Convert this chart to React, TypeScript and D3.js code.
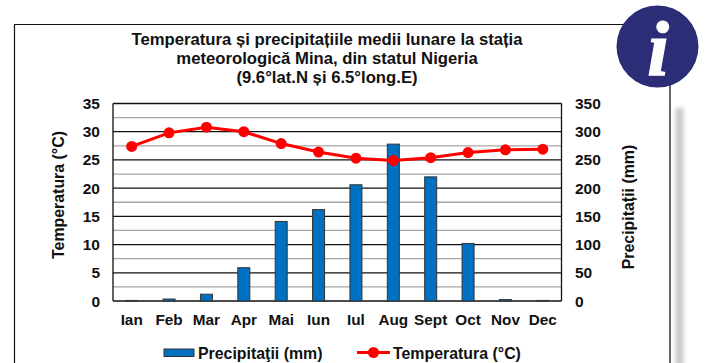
import React from "react";
import * as d3 from "d3";

const months = ["Ian","Feb","Mar","Apr","Mai","Iun","Iul","Aug","Sept","Oct","Nov","Dec"];
const temperature = [27.4,29.8,30.8,30.0,27.9,26.4,25.3,24.9,25.4,26.3,26.8,26.9];
const precipitation = [1,3.5,12,59,141,162,206,278,220,102,2.5,1];
const tempTicks = [0,5,10,15,20,25,30,35];
const minorTicks = [2.5,7.5,12.5,17.5,22.5,27.5,32.5];
const precipTicks = [0,50,100,150,200,250,300,350];
const titleLines = [
  "Temperatura și precipitațiile medii lunare la stația",
  "meteorologică Mina, din statul Nigeria",
  "(9.6°lat.N și 6.5°long.E)",
];

const FONT = "'Liberation Sans', Arial, sans-serif";

export default function App() {
  const W = 705, H = 363;
  const L = 113, R = 561.5, T = 103.5, B = 301;
  const x = d3.scaleBand<string>().domain(months).range([L, R]);
  const yT = d3.scaleLinear().domain([0, 35]).range([B, T]);
  const yP = d3.scaleLinear().domain([0, 350]).range([B, T]);
  const cx = (m: string) => (x(m) as number) + x.bandwidth() / 2;
  const line = d3.line<number>().x((_, i) => cx(months[i])).y(d => yT(d));
  const barW = 12;
  return (
    <svg width={W} height={H} viewBox={`0 0 ${W} ${H}`}
      style={{ position: "fixed", left: 0, top: 0, background: "#fff" }} fontFamily={FONT} fontWeight="bold" fill="#111">
      <defs>
        <filter id="blur" x="-50%" y="-10%" width="200%" height="120%">
          <feGaussianBlur stdDeviation="2" />
        </filter>
      </defs>
      <rect x={675.5} y={108} width={8} height={H} fill="#c8c8c8" filter="url(#blur)" />
      <path d={`M14.5 ${H} V24.5 H640`} fill="none" stroke="#111" strokeWidth={1.2} />
      <line x1={670} x2={670} y1={85} y2={H} stroke="#666" strokeWidth={2} />

      <circle cx={657.5} cy={46.5} r={41} fill="#2b2d77" />
      <text x={658} y={75} fontFamily="'Liberation Serif', serif" fontStyle="italic" fontWeight="bold" fontSize={78} fill="#fff" stroke="#fff" strokeWidth={1.2} textAnchor="middle">i</text>

      {titleLines.map((t, i) => (
        <text key={i} x={327} y={45 + i * 19} textAnchor="middle" fontSize={16.7}>{t}</text>
      ))}

      {minorTicks.map(t => (
        <line key={t} x1={L} x2={R} y1={yT(t)} y2={yT(t)} stroke="#a6a6a6" strokeWidth={1.3} />
      ))}
      {tempTicks.map(t => (
        <line key={t} x1={L} x2={R} y1={yT(t)} y2={yT(t)} stroke="#111" strokeWidth={1.3} />
      ))}
      <path d={`M${L} ${T} V${B} M${R} ${T} V${B}`} stroke="#111" strokeWidth={1.3} fill="none" />

      {precipitation.map((p, i) => (
        <rect key={months[i]} x={cx(months[i]) - barW / 2} y={yP(p)} width={barW} height={B - yP(p)}
          fill="#0070c0" stroke="#333" strokeWidth={1} />
      ))}

      <path d={line(temperature) as string} fill="none" stroke="#ff0000" strokeWidth={3} />
      {temperature.map((t, i) => (
        <circle key={months[i]} cx={cx(months[i])} cy={yT(t)} r={5.5} fill="#ff0000" />
      ))}

      {tempTicks.map(t => (
        <text key={t} x={100} y={yT(t) + 5.5} textAnchor="end" fontSize={15.5}>{t}</text>
      ))}
      {precipTicks.map(t => (
        <text key={t} x={575} y={yP(t) + 5.5} fontSize={15.5}>{t}</text>
      ))}
      {months.map(m => (
        <text key={m} x={cx(m)} y={324.5} textAnchor="middle" fontSize={15.3}>{m}</text>
      ))}

      <text transform={`translate(64,195) rotate(-90)`} textAnchor="middle" fontSize={15.9}>Temperatura (°C)</text>
      <text transform={`translate(634,207) rotate(-90)`} textAnchor="middle" fontSize={15.9}>Precipitații (mm)</text>

      <rect x={164} y={349} width={30} height={7.5} fill="#0070c0" stroke="#333" strokeWidth={1} />
      <text x={198} y={358.5} fontSize={15.9}>Precipitaţii (mm)</text>
      <line x1={357} x2={390} y1={352.5} y2={352.5} stroke="#ff0000" strokeWidth={3} />
      <circle cx={373.5} cy={352.5} r={5.5} fill="#ff0000" />
      <text x={393} y={358.5} fontSize={15.9}>Temperatura (°C)</text>
    </svg>
  );
}
